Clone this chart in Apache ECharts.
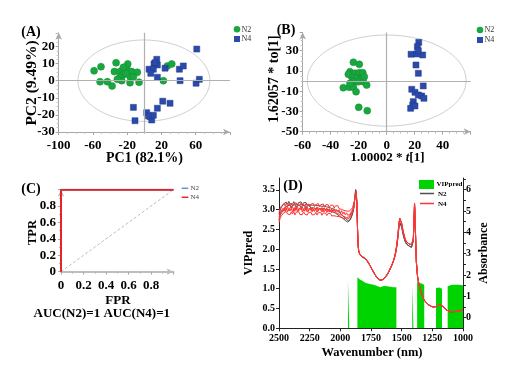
<!DOCTYPE html>
<html><head><meta charset="utf-8">
<script src="https://cdn.jsdelivr.net/npm/echarts@6/dist/echarts.min.js"></script>
<style>html,body{margin:0;padding:0;background:#fff}#c{width:513px;height:365px}</style>
</head><body><div id="c"></div>
<script>
// ---------- Panel A: PCA scores ----------
const pcaN2 = [[-58.7,5.8],[-50.6,8.2],[-51.7,-0.6],[-43.2,-0.6],[-37.7,-3.1],[-33,10.5],[-35,5.3],[-28.4,5.3],[-25.2,3.3],[-20.5,7.3],[-19.4,9.8],[-24.5,7.8],[-28.4,2],[-26.4,0],[-16.7,-1.2],[-14.7,5.3],[-16.7,2.3],[-8.2,4.9],[-6.2,-0.9],[-12.8,2.3],[-31.5,0.8],[22.2,0],[26.9,8.6],[32,9.8],[-21.7,4.3]];
const pcaN4 = [[61.2,18.5],[14.5,12.5],[11.3,9.8],[15.2,9.2],[5.5,6.7],[10.5,6.7],[7.5,4.3],[15.2,2],[24.2,7.3],[40.9,6.7],[45.5,8.6],[41.7,0],[60.4,-1.5],[64.2,0.8],[-12.8,-15.6],[-10.9,-23.4],[2.8,-18.7],[6.7,-21],[8.6,-23],[10.5,-20.2],[15.2,-16.1],[21.5,-12],[30,-13.2],[4.7,-20.6],[12.5,10.5]];
const ellipseA = {cx:-0.5, cy:0, a:77, b:23.8};
// ---------- Panel B: OPLS-DA scores ----------
const oplsN2 = [[-23.8,18.6],[-19.6,16.6],[-26.2,9.3],[-22.6,7.7],[-19.6,8.3],[-17.1,8.3],[-25,4.3],[-21.4,2.8],[-17.9,1.8],[-23.8,-0.6],[-20.3,-0.6],[-16.7,-0.6],[-14.3,-3.9],[-31,-6.5],[-26.7,-6.1],[-23.8,-6.1],[-21.9,-10.5],[-20,-25.9],[-13.9,-29.2],[-26.2,-2.2],[-16,4.3],[-27.4,6.7]];
const oplsN4 = [[22.9,38.3],[21.9,34],[17.4,26.5],[21.4,26.8],[25.7,25.8],[22.6,30],[20.9,15.9],[22.6,7.7],[26.1,-4.8],[17.9,-8.1],[20.2,-11.1],[22.6,-13.7],[25,-14.7],[26.6,-17],[19,-20.3],[18.6,-23.6],[17.1,-26.9],[20.2,-24.6]];
const ellipseB = {cx:0, cy:0.5, a:56.7, b:45};
// ---------- Panel C: ROC ----------
const rocN2 = [[0,0],[0,1],[1,1]];
const rocN4 = [[0,0],[0,1],[1,1]];
const rocDiag = [[0,0],[1,1]];
// ---------- Panel D: spectra & VIP ----------
const wNoise = [2500,2490,2480,2470,2460,2450,2440,2430,2420,2410,
2400,2390,2380,2370,2360,2350,2340,2330,2320,2310,
2300,2290,2280,2270,2260,2250,2240,2230,2220,2210,
2200,2190,2180,2170,2160,2150,2140,2130,2120,2110,
2100,2090,2080,2070,2060,2050,2040,2030,2020,2010,
2000,1990,1980,1970,1960,1950,1940,1930,1920,1910,
1900];
const n4a = [4.70,4.92,4.98,5.12,5.00,5.20,5.04,5.22,5.02,5.16,
5.08,5.22,5.00,5.18,5.06,5.21,4.99,5.15,5.05,5.20,
5.02,5.17,5.04,5.19,4.98,5.14,5.03,5.18,5.00,5.15,
5.05,5.19,4.99,5.13,5.03,5.17,4.97,5.13,5.01,5.14,
4.99,5.12,4.96,5.10,4.98,5.11,4.94,5.07,4.95,5.06,
4.90,5.02,4.86,4.96,4.82,4.92,4.80,4.88,4.86,4.97,
5.08];
const n4b = [4.95,5.12,5.24,5.18,5.34,5.24,5.38,5.22,5.36,5.26,
5.37,5.21,5.34,5.25,5.39,5.22,5.35,5.24,5.38,5.23,
5.33,5.21,5.36,5.24,5.34,5.20,5.32,5.23,5.36,5.21,
5.31,5.22,5.35,5.19,5.30,5.21,5.33,5.17,5.29,5.20,
5.30,5.16,5.27,5.18,5.28,5.14,5.24,5.15,5.25,5.11,
5.20,5.08,5.15,5.03,5.08,5.00,5.04,4.99,5.03,5.08,
5.18];
const n4c = [4.45,4.68,4.78,4.86,4.93,4.84,4.97,4.86,4.95,4.83,
4.96,4.86,4.98,4.82,4.94,4.85,4.97,4.84,4.93,4.83,
4.96,4.86,4.94,4.81,4.92,4.84,4.95,4.82,4.91,4.83,
4.94,4.81,4.92,4.84,4.93,4.80,4.91,4.82,4.90,4.79,
4.89,4.80,4.88,4.77,4.86,4.78,4.85,4.75,4.83,4.74,
4.78,4.70,4.74,4.66,4.70,4.64,4.66,4.64,4.72,4.84,
4.98];
const n4d = [4.60,4.85,5.05,4.95,5.12,4.98,5.15,4.96,5.10,5.00,
5.14,4.95,5.12,4.99,5.16,4.97,5.10,5.01,5.15,4.96,
5.11,4.99,5.14,4.95,5.09,5.00,5.13,4.96,5.10,4.98,
5.12,4.94,5.08,4.99,5.11,4.95,5.07,4.97,5.09,4.93,
5.05,4.95,5.06,4.91,5.02,4.93,5.00,4.88,4.97,4.86,
4.92,4.80,4.84,4.74,4.76,4.70,4.72,4.72,4.80,4.90,
5.02];
const n2a = [4.85,5.05,5.18,5.25,5.35,5.28,5.42,5.32,5.45,5.34,
5.42,5.31,5.44,5.33,5.41,5.30,5.40,5.32,5.43,5.29,
5.39,5.31,5.40,5.28,5.37,5.30,5.39,5.27,5.36,5.28,
5.37,5.25,5.34,5.26,5.35,5.22,5.31,5.24,5.30,5.19,
5.26,5.17,5.22,5.12,5.17,5.08,5.12,5.02,5.05,4.95,
4.96,4.85,4.84,4.72,4.70,4.60,4.58,4.52,4.58,4.72,
4.92];
const n2b = [4.55,4.80,4.92,5.02,5.10,5.18,5.12,5.25,5.17,5.28,
5.15,5.26,5.19,5.30,5.16,5.27,5.18,5.26,5.15,5.25,
5.18,5.27,5.14,5.24,5.17,5.26,5.13,5.22,5.15,5.23,
5.12,5.21,5.14,5.22,5.10,5.19,5.12,5.17,5.08,5.15,
5.06,5.11,5.01,5.06,4.96,5.00,4.90,4.92,4.82,4.84,
4.74,4.74,4.66,4.65,4.56,4.55,4.48,4.50,4.58,4.70,
4.88];
const wTail = [1890,1885,1880,1875,1870,1865,1860,1855,1850,1840,
1830,1820,1810,1800,1790,1780,1770,1760,1750,1740,
1730,1720,1710,1700,1690,1680,1670,1660,1650,1640,
1630,1620,1610,1600,1590,1580,1570,1560,1550,1540,
1530,1525,1520,1515,1510,1500,1490,1480,1470,1460,
1450,1440,1430,1420,1410,1405,1400,1395,1390,1385,
1380,1370,1360,1350,1340,1330,1320,1310,1300,1280,
1260,1240,1220,1200,1180,1170,1160,1150,1140,1130,
1120,1100,1080,1060,1040,1020,1000];
const n4Tail = [5.2,5.45,5.65,5.8,5.92,5.3,4.2,3.4,3.12,2.95,
2.88,2.86,2.83,2.79,2.73,2.66,2.58,2.47,2.36,2.25,
2.15,2.05,1.95,1.87,1.8,1.77,1.76,1.76,1.8,1.86,
1.93,2.0,2.1,2.22,2.35,2.47,2.62,2.8,3.05,3.4,
3.9,4.25,4.5,4.65,4.66,4.42,4.1,3.85,3.65,3.55,
3.5,3.46,3.44,3.42,3.4,3.7,4.5,5.35,4.6,3.5,
2.6,1.9,1.58,1.38,1.18,1.0,0.87,0.77,0.69,0.6,
0.53,0.5,0.52,0.57,0.58,0.56,0.51,0.45,0.39,0.34,
0.31,0.28,0.28,0.29,0.3,0.33,0.37];
const n2Tail = [5.15,5.45,5.75,6.0,6.05,5.4,4.2,3.4,3.1,2.94,
2.86,2.84,2.81,2.77,2.71,2.64,2.56,2.46,2.35,2.24,
2.14,2.04,1.95,1.87,1.8,1.77,1.76,1.76,1.79,1.85,
1.92,1.99,2.09,2.2,2.33,2.45,2.6,2.77,3.0,3.32,
3.78,4.1,4.33,4.45,4.45,4.25,3.95,3.72,3.55,3.45,
3.4,3.36,3.33,3.3,3.3,3.6,4.4,5.3,4.55,3.45,
2.58,1.9,1.58,1.38,1.18,1.0,0.87,0.77,0.69,0.6,
0.53,0.5,0.52,0.57,0.58,0.56,0.51,0.45,0.39,0.34,
0.31,0.28,0.28,0.29,0.3,0.33,0.37];
const vipSegments = [
  [[1938,1.22],[1927,1.22]],
  [[1861,1.29],[1850,1.26],[1838,1.23],[1820,1.2],[1800,1.16],[1783,1.14],[1760,1.12],[1729,1.1],[1700,1.07],[1674,1.04],[1660,1.06],[1647,1.07],[1620,1.06],[1592,1.05],[1570,1.04],[1543,1.04]],
  [[1414,1.09],[1404,1.09]],
  [[1374,1.18],[1360,1.17],[1345,1.14],[1330,1.12],[1316,1.1]],
  [[1220,1.02],[1208,1.04],[1195,1.03],[1182,1.02],[1171,1.0]],
  [[1125,1.06],[1115,1.09],[1090,1.1],[1060,1.1],[1030,1.1],[1000,1.09]]
];

const FONT = "'Liberation Serif','Times New Roman',serif";
const GREEN = '#19a83f', BLUE = '#2b4aa9';

function ellipsePts(p){const pts=[];for(let i=0;i<=120;i++){const t=i/120*2*Math.PI;pts.push([p.cx+p.a*Math.cos(t),p.cy+p.b*Math.sin(t)]);}return pts;}
function pair(ws, vs){return ws.map((w,i)=>[w,vs[i]]);}
const vipData = [];
vipSegments.forEach((s,i)=>{ if(i>0) vipData.push(null); s.forEach(p=>vipData.push(p)); });

function lbl(size, margin, extra){return Object.assign({fontFamily:FONT,fontWeight:'bold',fontSize:size,color:'#000',margin:margin},extra||{});}
function pcaAxis(grid,min,max,interval,margin){
  return {gridIndex:grid,type:'value',min:min,max:max,interval:interval,
    axisLine:{show:true,onZero:false,lineStyle:{color:'#a8a8a8',width:1},symbol:['none','arrow'],symbolSize:[5,7]},
    axisTick:{show:true,length:3,lineStyle:{color:'#a8a8a8'}},
    minorTick:{show:true,splitNumber:4,length:2,lineStyle:{color:'#c0c0c0'}},
    splitLine:{show:false},
    axisLabel:lbl(13,margin,{showMaxLabel:false})};
}
function txt(x,y,t,size,opt){
  opt=opt||{};
  return {type:'text',x:x,y:y,rotation:opt.rot||0,silent:true,z:100,
    style:{text:t,font:(opt.weight||'bold')+' '+size+'px '+FONT,fill:opt.color||'#000',
      align:opt.align||'center',verticalAlign:'middle',textAlign:opt.align||'center',textVerticalAlign:'middle',rich:opt.rich}};
}
const R = Math.PI/2;

const series = [
  // A
  {type:'line',xAxisIndex:0,yAxisIndex:0,data:ellipsePts(ellipseA),showSymbol:false,silent:true,lineStyle:{color:'#cfcfcf',width:1},z:1,
    markLine:{silent:true,symbol:['none','none'],label:{show:false},lineStyle:{color:'#b0b0b0',type:'solid',width:1.2},data:[{xAxis:0},{yAxis:0}]}},
  {type:'scatter',xAxisIndex:0,yAxisIndex:0,data:pcaN2,symbol:'circle',symbolSize:7,itemStyle:{color:GREEN,borderColor:'#118a33',borderWidth:0.5,opacity:1},z:3},
  {type:'scatter',xAxisIndex:0,yAxisIndex:0,data:pcaN4,symbol:'rect',symbolSize:6,itemStyle:{color:BLUE,borderColor:'#1f3a8f',borderWidth:0.5,opacity:1},z:3},
  // B
  {type:'line',xAxisIndex:1,yAxisIndex:1,data:ellipsePts(ellipseB),showSymbol:false,silent:true,lineStyle:{color:'#cfcfcf',width:1},z:1,
    markLine:{silent:true,symbol:['none','none'],label:{show:false},lineStyle:{color:'#b0b0b0',type:'solid',width:1.2},data:[{xAxis:0},{yAxis:0}]}},
  {type:'scatter',xAxisIndex:1,yAxisIndex:1,data:oplsN2,symbol:'circle',symbolSize:7,itemStyle:{color:GREEN,borderColor:'#118a33',borderWidth:0.5,opacity:1},z:3},
  {type:'scatter',xAxisIndex:1,yAxisIndex:1,data:oplsN4,symbol:'rect',symbolSize:6,itemStyle:{color:BLUE,borderColor:'#1f3a8f',borderWidth:0.5,opacity:1},z:3},
  // C
  {type:'line',xAxisIndex:2,yAxisIndex:2,data:rocDiag,showSymbol:false,silent:true,lineStyle:{color:'#bdbdbd',width:1,type:[3,2]}},
  {type:'line',xAxisIndex:2,yAxisIndex:2,data:rocN2,showSymbol:false,silent:true,lineStyle:{color:'#6f8fd8',width:2}},
  {type:'line',xAxisIndex:2,yAxisIndex:2,data:rocN4,showSymbol:false,silent:true,lineStyle:{color:'#e0262b',width:2},z:4},
  // D
  {type:'line',xAxisIndex:3,yAxisIndex:3,data:vipData,showSymbol:false,silent:true,connectNulls:false,lineStyle:{width:0,color:'#00d400'},areaStyle:{color:'#00d400',opacity:1},z:1},
];
[n2a,n2b].forEach(a=>series.push({type:'line',xAxisIndex:3,yAxisIndex:4,data:pair(wNoise,a).concat(pair(wTail,n2Tail)),showSymbol:false,silent:true,lineStyle:{color:'#505050',width:1},z:2}));
[n4a,n4b,n4c,n4d].forEach(a=>series.push({type:'line',xAxisIndex:3,yAxisIndex:4,data:pair(wNoise,a).concat(pair(wTail,n4Tail)),showSymbol:false,silent:true,lineStyle:{color:'#ff3535',width:1},z:3}));

const dAxisLine = {show:true,onZero:false,lineStyle:{color:'#222',width:1}};
const option = {
  animation:false,
  backgroundColor:'#fff',
  grid:[
    {left:58.7,top:32.8,width:171.3,height:99.2,containLabel:false,outerBoundsMode:'none'},
    {left:302.7,top:32.5,width:168,height:99.2,containLabel:false,outerBoundsMode:'none'},
    {left:61,top:189.7,width:112.5,height:82,containLabel:false,outerBoundsMode:'none'},
    {left:279,top:178,width:184,height:150.3,containLabel:false,outerBoundsMode:'none'}
  ],
  xAxis:[
    pcaAxis(0,-100,100,40,7),
    pcaAxis(1,-60,60,20,7),
    {gridIndex:2,type:'value',min:0,max:1,interval:0.2,
      axisLine:{show:true,onZero:false,lineStyle:{color:'#bdbdbd',width:2},symbol:['none','arrow'],symbolSize:[5,7]},
      axisTick:{show:true,length:3,lineStyle:{color:'#aaa'}},minorTick:{show:true,splitNumber:2,length:2,lineStyle:{color:'#bbb'}},
      splitLine:{show:false},axisLabel:lbl(13,7,{showMaxLabel:false})},
    {gridIndex:3,type:'value',min:1000,max:2500,interval:250,inverse:true,
      axisLine:dAxisLine,axisTick:{show:true,length:3,lineStyle:{color:'#222'}},splitLine:{show:false},
      axisLabel:lbl(10,5,{formatter:v=>String(v)})}
  ],
  yAxis:[
    pcaAxis(0,-30,28,10,4),
    pcaAxis(1,-50,48,20,4),
    {gridIndex:2,type:'value',min:0,max:1,interval:0.2,
      axisLine:{show:true,onZero:false,lineStyle:{color:'#bdbdbd',width:1},symbol:['none','arrow'],symbolSize:[5,7]},
      axisTick:{show:true,length:3,lineStyle:{color:'#aaa'}},minorTick:{show:true,splitNumber:2,length:2,lineStyle:{color:'#bbb'}},
      splitLine:{show:false},axisLabel:lbl(13,5,{showMaxLabel:false})},
    {gridIndex:3,type:'value',min:0,max:3.8,interval:0.5,
      axisLine:dAxisLine,axisTick:{show:true,length:3,lineStyle:{color:'#222'}},splitLine:{show:false},
      axisLabel:lbl(10,4,{showMaxLabel:false,formatter:v=>v.toFixed(1)})},
    {gridIndex:3,type:'value',position:'right',min:-0.5,max:6.55,interval:0.5,
      axisLine:dAxisLine,axisTick:{show:true,length:3,lineStyle:{color:'#222'}},splitLine:{show:false},
      axisLabel:lbl(10,3,{showMaxLabel:false,showMinLabel:false,formatter:v=>(Math.abs(v-Math.round(v))<1e-6?String(Math.round(v)):'')})}
  ],
  series:series,
  graphic:[
    // A
    txt(31,32.5,'(A)',14),
    txt(32,83,'PC2 (9.49%)',15.5,{rot:R}),
    txt(144.5,158,'PC1 (82.1%)',14),
    {type:'circle',shape:{cx:237,cy:29.3,r:3.3},style:{fill:GREEN},silent:true},
    {type:'rect',shape:{x:234,y:36,width:6,height:6},style:{fill:BLUE},silent:true},
    txt(241.5,29.5,'N2',8,{weight:'normal',align:'left',color:'#333'}),
    txt(241.5,39.2,'N4',8,{weight:'normal',align:'left',color:'#333'}),
    // B
    txt(286,30,'(B)',14),
    txt(274,79,'1.62057 * to[1]',14,{rot:R}),
    txt(387.5,158,'1.00002 * {i|t}[1]',13,{rich:{i:{font:'italic bold 13px '+FONT,fill:'#000'}}}),
    {type:'circle',shape:{cx:480,cy:30,r:3.3},style:{fill:GREEN},silent:true},
    {type:'rect',shape:{x:477,y:37,width:6,height:6},style:{fill:BLUE},silent:true},
    txt(484.5,30.2,'N2',8,{weight:'normal',align:'left',color:'#333'}),
    txt(484.5,40.2,'N4',8,{weight:'normal',align:'left',color:'#333'}),
    // C
    txt(31,189,'(C)',14),
    txt(33,232.5,'TPR',12.5,{rot:R}),
    txt(118,301,'FPR',13),
    txt(101.8,313.3,'AUC(N2)=1 AUC(N4)=1',13),
    {type:'line',shape:{x1:181.7,y1:188.3,x2:188.3,y2:188.3},style:{stroke:'#6f8fd8',lineWidth:1.5},silent:true},
    {type:'line',shape:{x1:181.7,y1:197.3,x2:188.3,y2:197.3},style:{stroke:'#e0262b',lineWidth:1.5},silent:true},
    txt(190.5,188.5,'N2',7,{weight:'normal',align:'left',color:'#444'}),
    txt(190.5,197.5,'N4',7,{weight:'normal',align:'left',color:'#444'}),
    // D
    txt(293,186,'(D)',14),
    txt(249,253,'VIPpred',12,{rot:R}),
    txt(483.5,253,'Absorbance',12,{rot:R}),
    txt(372,352.7,'Wavenumber (nm)',12.5),
    {type:'rect',shape:{x:419,y:180,width:15,height:9},style:{fill:'#00d400'},silent:true,z:100},
    {type:'line',shape:{x1:420,y1:193.5,x2:434,y2:193.5},style:{stroke:'#505050',lineWidth:1.5},silent:true,z:100},
    {type:'line',shape:{x1:420,y1:203.5,x2:434,y2:203.5},style:{stroke:'#ff3535',lineWidth:1.5},silent:true,z:100},
    txt(436.5,184.5,'VIPpred',7,{align:'left'}),
    txt(438,193.7,'N2',7,{align:'left'}),
    txt(438,203.7,'N4',7,{align:'left'})
  ]
};
const chart = echarts.init(document.getElementById('c'),null,{renderer:'canvas'});
chart.setOption(option);
</script></body></html>
